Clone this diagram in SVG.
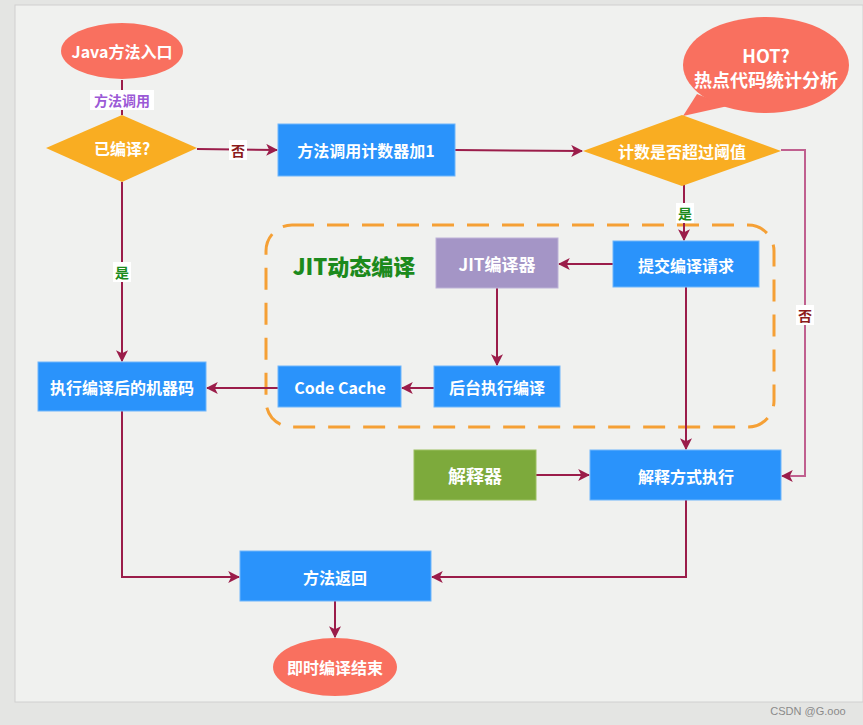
<svg xmlns="http://www.w3.org/2000/svg" width="863" height="725" viewBox="0 0 863 725">
<defs>
<marker id="ah2" viewBox="0 0 10 10" refX="9" refY="5" markerWidth="12" markerHeight="12" orient="auto" markerUnits="userSpaceOnUse">
<path d="M0,0 L10,5 L0,10 L2.5,5 z" fill="#9b1d4a"/>
</marker>
<style>
text{font-family:"Noto Sans CJK SC","Liberation Sans",sans-serif;font-weight:bold;text-anchor:middle;dominant-baseline:central}
.w{fill:#ffffff;font-size:16px}
.box{fill:#2a93fb;stroke:#6fb6fb;stroke-width:1}
.c{fill:none;stroke:#9b1d4a;stroke-width:2;marker-end:url(#ah2)}
.n{fill:none;stroke:#9b1d4a;stroke-width:2}
.lbl{font-size:14px}
</style>
</defs>
<rect x="0" y="0" width="863" height="725" fill="#e4e5e3"/>
<rect x="15" y="5" width="848" height="697" fill="#f0f1ef" stroke="#d0d0d0"/>
<text x="808" y="711" style="font-family:'Liberation Sans',sans-serif;font-weight:normal;font-size:11px;fill:#8a8a8a">CSDN @G.ooo</text>

<g id="jit-frame">
<rect x="266" y="225" width="508" height="202" rx="26" fill="none" stroke="#f5a035" stroke-width="3" stroke-dasharray="22,13"/>
<text x="354" y="265" style="font-size:22px;font-weight:900;fill:#1c8a1c">JIT动态编译</text>
</g>

<g id="connectors">
<line class="n" x1="122" y1="80" x2="122" y2="115"/>
<path class="c" d="M197,149 L277,150"/>
<path class="c" d="M455,150 L582,151"/>
<path class="c" d="M684,185 L684,240"/>
<path d="M781,150 L805,150 L805,476 L782,476" fill="none" stroke="#c0608f" stroke-width="2" marker-end="url(#ah2)"/>
<path class="c" d="M613,264 L559,264"/>
<path class="c" d="M497,288 L497,365"/>
<path class="c" d="M434,388 L402,388"/>
<path class="c" d="M278,388 L207,388"/>
<path class="c" d="M122,182 L122,361"/>
<path class="c" d="M686,287 L686,449"/>
<path class="c" d="M536,475 L589,475"/>
<path class="c" d="M686,500 L686,577 L432,577"/>
<path class="c" d="M122,411 L122,577 L239,577"/>
<path class="c" d="M335,601 L335,637"/>
<rect x="90" y="90" width="64" height="20" fill="#ffffff"/>
<text x="122" y="100" class="lbl" style="fill:#9b59d6">方法调用</text>
<rect x="229" y="140" width="18" height="20" fill="#ffffff"/>
<text x="238" y="150" class="lbl" style="fill:#8b1a1a">否</text>
<rect x="676" y="203" width="18" height="20" fill="#ffffff"/>
<text x="685" y="213" class="lbl" style="fill:#1c8a1c">是</text>
<rect x="113" y="262" width="18" height="20" fill="#ffffff"/>
<text x="122" y="272" class="lbl" style="fill:#1c8a1c">是</text>
<rect x="796" y="305" width="18" height="20" fill="#ffffff"/>
<text x="805" y="315" class="lbl" style="fill:#8b1a1a">否</text>
</g>

<g id="java-entry">
<ellipse cx="122" cy="51" rx="61" ry="28" fill="#f9705f"/>
<text x="122" y="51" class="w">Java方法入口</text>
</g>
<g id="compiled">
<polygon points="46,148 122,115 197,148 122,182" fill="#f9ad22"/>
<text x="122" y="148" class="w">已编译?</text>
</g>
<g id="counter">
<rect class="box" x="278" y="124" width="177" height="52"/>
<text x="366" y="150" class="w">方法调用计数器加1</text>
</g>
<g id="hot">
<path d="M697,94 L683,116 L728,106 z" fill="#f9705f"/>
<ellipse cx="766" cy="65" rx="83" ry="48" fill="#f9705f"/>
<text x="766" y="55" class="w" style="font-size:18px">HOT?</text>
<text x="766" y="79" class="w" style="font-size:18px">热点代码统计分析</text>
</g>
<g id="threshold">
<polygon points="583,151 682,115 781,151 682,186" fill="#f9ad22"/>
<text x="682" y="151" class="w">计数是否超过阈值</text>
</g>
<g id="submit">
<rect class="box" x="613" y="241" width="146" height="46"/>
<text x="686" y="265" class="w">提交编译请求</text>
</g>
<g id="jit-compiler">
<rect x="436" y="238" width="122" height="50" fill="#a495c6" stroke="#bdb2d8"/>
<text x="497" y="263" class="w" style="font-size:17px">JIT编译器</text>
</g>
<g id="bg-compile">
<rect class="box" x="434" y="366" width="126" height="41"/>
<text x="497" y="387" class="w">后台执行编译</text>
</g>
<g id="code-cache">
<rect class="box" x="278" y="366" width="123" height="41"/>
<text x="340" y="387" class="w">Code Cache</text>
</g>
<g id="exec-machine">
<rect class="box" x="38" y="362" width="168" height="49"/>
<text x="122" y="387" class="w">执行编译后的机器码</text>
</g>
<g id="interpreter">
<rect x="414" y="450" width="122" height="50" fill="#7daa3c" stroke="#9cc060"/>
<text x="475" y="475" class="w" style="font-size:18px">解释器</text>
</g>
<g id="interp-exec">
<rect class="box" x="590" y="450" width="191" height="50"/>
<text x="686" y="476" class="w">解释方式执行</text>
</g>
<g id="method-return">
<rect class="box" x="240" y="551" width="191" height="50"/>
<text x="335" y="577" class="w">方法返回</text>
</g>
<g id="end">
<ellipse cx="335" cy="667" rx="62" ry="29" fill="#f9705f"/>
<text x="335" y="667" class="w">即时编译结束</text>
</g>
</svg>
